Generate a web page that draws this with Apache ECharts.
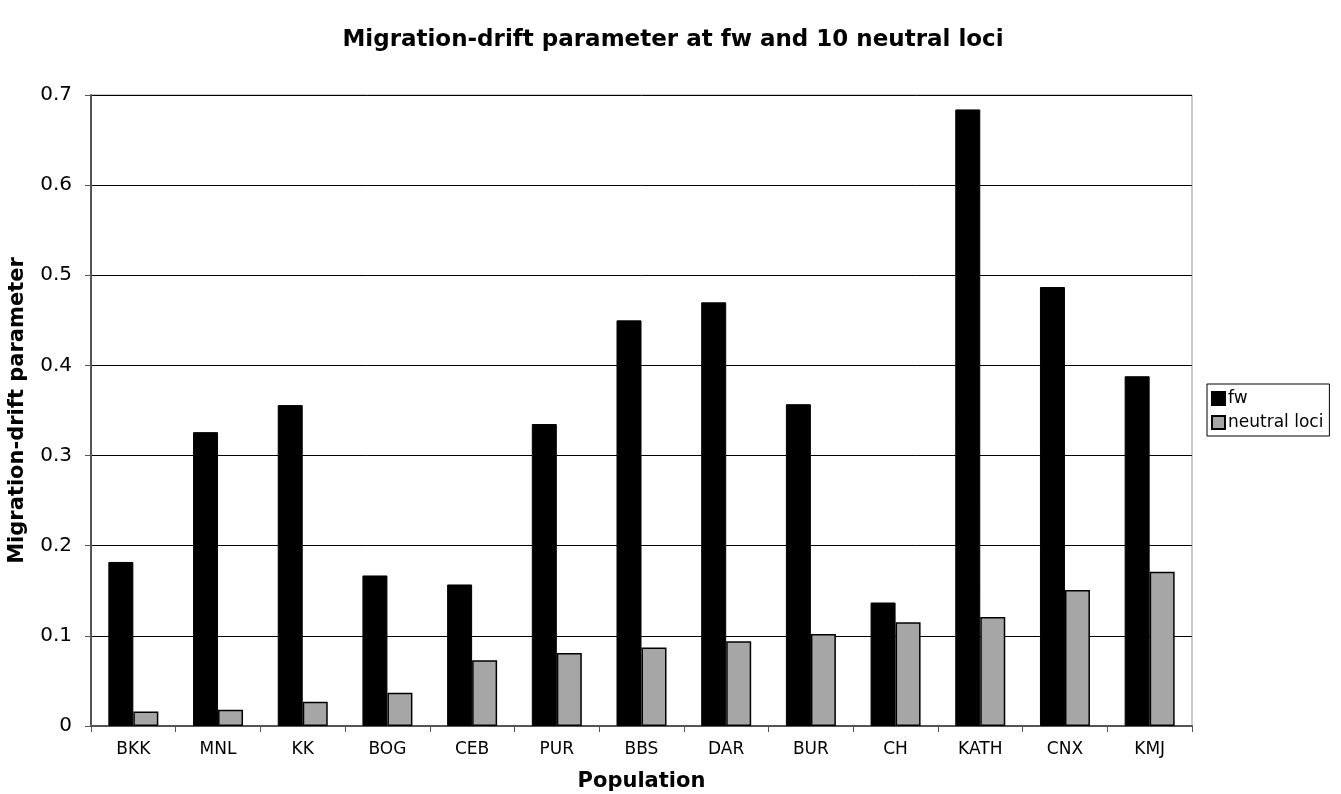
<!DOCTYPE html>
<html>
<head>
<meta charset="utf-8">
<script src="https://cdn.jsdelivr.net/npm/echarts@6/dist/echarts.min.js"></script>
<style>
html,body{margin:0;padding:0;background:#fff;}
#chart{width:1341px;height:794px;}
</style>
</head>
<body>
<div id="chart"></div>
<script>
const categories = ['BKK','MNL','KK','BOG','CEB','PUR','BBS','DAR','BUR','CH','KATH','CNX','KMJ'];
const fwValues = [0.182, 0.326, 0.356, 0.167, 0.157, 0.335, 0.450, 0.470, 0.357, 0.137, 0.684, 0.487, 0.388];
const neutralValues = [0.016, 0.018, 0.027, 0.037, 0.073, 0.081, 0.087, 0.094, 0.102, 0.115, 0.121, 0.151, 0.171];
const yTicks = [0, 0.1, 0.2, 0.3, 0.4, 0.5, 0.6, 0.7];

const font = 'DejaVu Sans, Verdana, sans-serif';
const chart = echarts.init(document.getElementById('chart'));
chart.setOption({
  backgroundColor: '#fff',
  animation: false,
  title: {
    text: 'Migration-drift parameter at fw and 10 neutral loci',
    left: 668, top: 24, textAlign: 'center',
    textStyle: {fontFamily: font, fontSize: 23, fontWeight: 'bold', color: '#000'}
  },
  legend: {
    orient: 'vertical',
    left: 1207, top: 384,
    itemWidth: 13, itemHeight: 13, itemGap: 7,
    padding: [6, 6, 5, 4],
    borderColor: '#000', borderWidth: 1,
    textStyle: {fontFamily: font, fontSize: 17, color: '#000', padding: [0,0,0,-2]},
    data: [
      {name: 'fw', icon: 'rect'},
      {name: 'neutral loci', icon: 'rect'}
    ]
  },
  grid: {
    left: 91, right: 149, top: 95, bottom: 68,
    containLabel: false,
    outerBoundsMode: 'none',
    show: true, borderColor: '#999', borderWidth: 1
  },
  xAxis: {
    type: 'category',
    data: categories,
    name: 'Population',
    nameLocation: 'middle',
    nameGap: 45,
    nameTextStyle: {fontFamily: font, fontSize: 21, fontWeight: 'bold', color: '#000'},
    axisLine: {lineStyle: {color: '#555', width: 2}},
    axisTick: {show: true, length: 6, lineStyle: {color: '#555'}},
    axisLabel: {fontFamily: font, fontSize: 17, color: '#000', margin: 15},
    splitLine: {show: false}
  },
  yAxis: {
    type: 'value',
    min: 0, max: 0.7, interval: 0.1,
    name: 'Migration-drift parameter',
    nameLocation: 'middle',
    nameGap: 63,
    nameTextStyle: {fontFamily: font, fontSize: 21, fontWeight: 'bold', color: '#000'},
    axisLine: {show: true, lineStyle: {color: '#555', width: 2}},
    axisTick: {show: true, length: 6, lineStyle: {color: '#555'}},
    axisLabel: {
      fontFamily: font, fontSize: 20, color: '#000', margin: 19,
      formatter: function (v) {
        const t = yTicks.find(x => Math.abs(x - v) < 1e-9);
        return t === undefined ? '' : String(t);
      }
    },
    splitLine: {show: true, lineStyle: {color: '#000', width: 1}}
  },
  series: [
    {
      name: 'fw', type: 'bar', data: fwValues,
      barWidth: 25, barGap: '0%',
      itemStyle: {color: '#000', borderColor: '#000', borderWidth: 1}
    },
    {
      name: 'neutral loci', type: 'bar', data: neutralValues,
      barWidth: 25, barGap: '0%',
      itemStyle: {color: '#a6a6a6', borderColor: '#000', borderWidth: 1.5}
    }
  ]
});
</script>
</body>
</html>
